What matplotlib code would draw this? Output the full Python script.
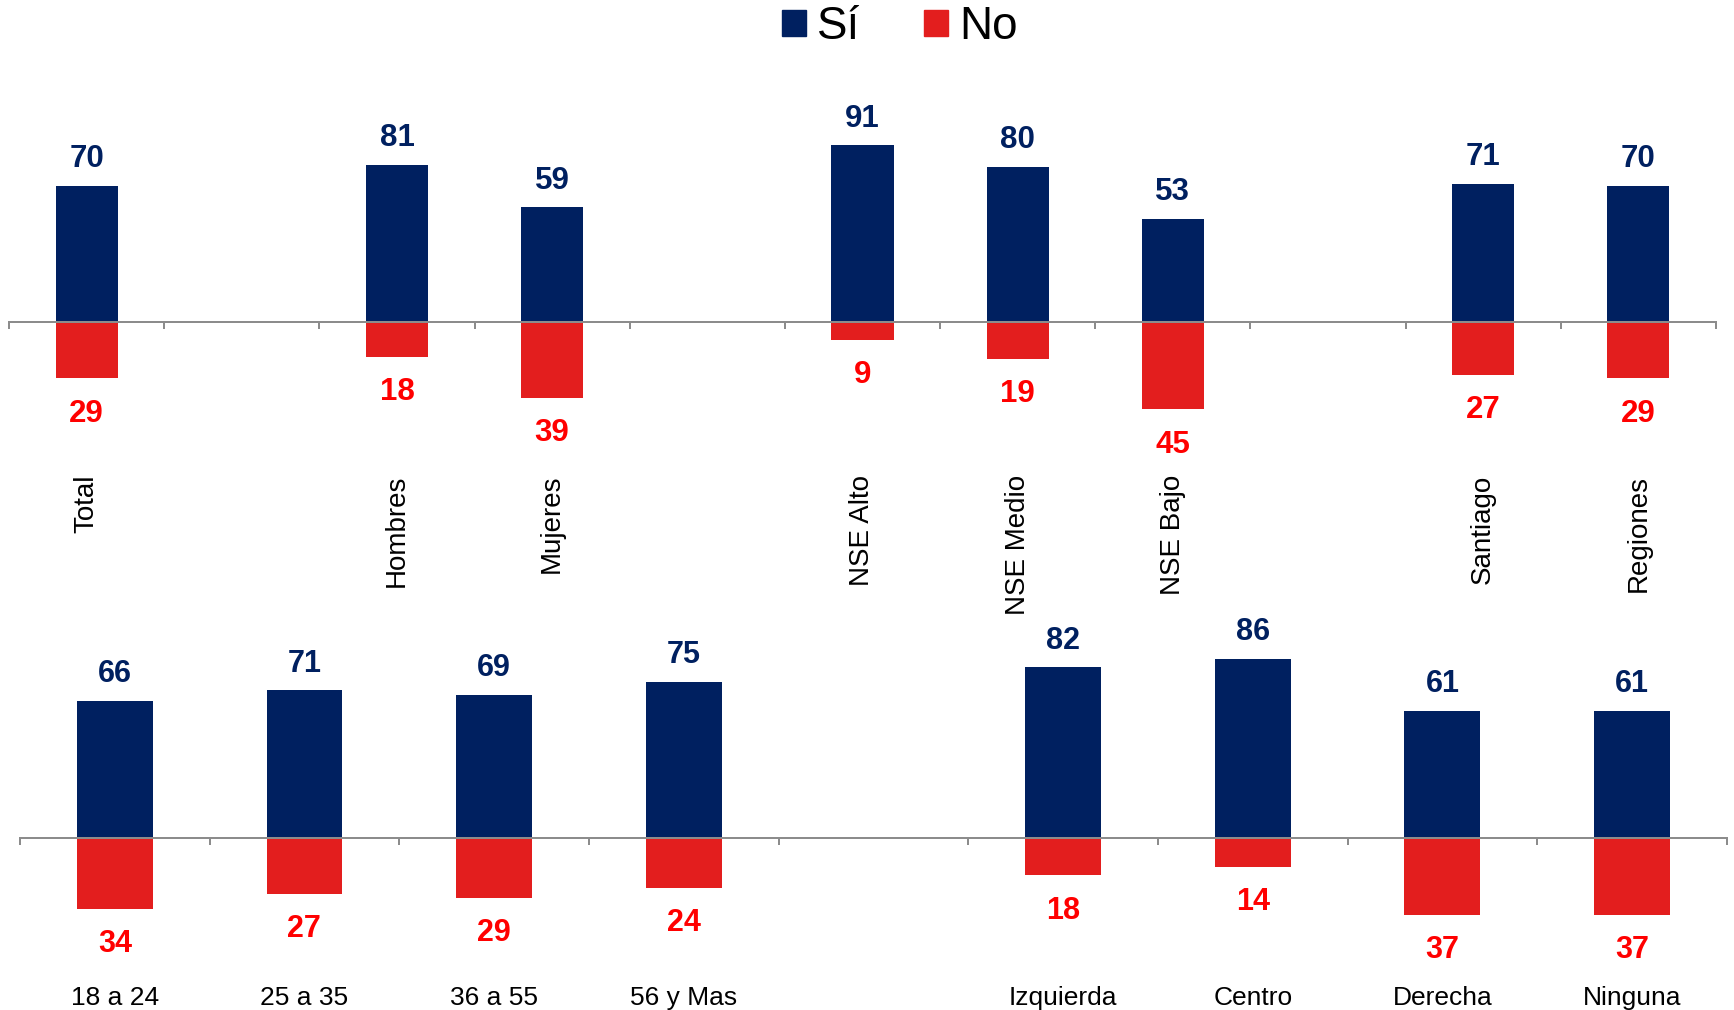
import numpy as np
import matplotlib
matplotlib.use("Agg")
import matplotlib.pyplot as plt  # noqa: E402
from matplotlib.patches import Patch  # noqa: E402

plt.rcParams["font.family"] = ["Liberation Sans", "DejaVu Sans"]

NAVY = "#002060"
RED_BAR = "#E31E1E"
RED_TXT = "#FF0000"
GRAY = "#8C8C8C"

# None marks an empty slot between groups
top_labels = ["Total", "", "Hombres", "Mujeres", "", "NSE Alto", "NSE Medio",
              "NSE Bajo", "", "Santiago", "Regiones"]
top_si = [70, None, 81, 59, None, 91, 80, 53, None, 71, 70]
top_no = [29, None, 18, 39, None, 9, 19, 45, None, 27, 29]

bot_labels = ["18 a 24", "25 a 35", "36 a 55", "56 y Mas", "", "Izquierda",
              "Centro", "Derecha", "Ninguna"]
bot_si = [66, 71, 69, 75, None, 82, 86, 61, 61]
bot_no = [34, 27, 29, 24, None, 18, 14, 37, 37]


def draw_panel(ax, labels, si, no, rot, pad, lab_size, val_size):
    x = [i for i, v in enumerate(si) if v is not None]
    si_v = [si[i] for i in x]
    no_v = [no[i] for i in x]
    ax.bar(x, si_v, width=0.4, color=NAVY)
    ax.bar(x, [-v for v in no_v], width=0.4, color=RED_BAR)
    for xi, s, n in zip(x, si_v, no_v):
        ax.annotate(f"{s}", (xi, s), xytext=(0, 13.5), textcoords="offset points",
                    ha="center", va="baseline", fontsize=val_size,
                    fontweight="bold", color=NAVY)
        ax.annotate(f"{n}", (xi, -n), xytext=(0, -14.5), textcoords="offset points",
                    ha="center", va="top", fontsize=val_size,
                    fontweight="bold", color=RED_TXT)

    n = len(labels)
    ax.set_xlim(-0.5, n - 0.5)
    ax.set_ylim(-60, 100)
    ax.set_xticks(range(n), labels)
    ax.set_xticks(np.arange(n + 1) - 0.5, minor=True)
    ax.tick_params(axis="x", which="major", length=0, pad=pad,
                   labelsize=lab_size, labelcolor="black", labelrotation=rot)
    ax.tick_params(axis="x", which="minor", length=5, width=1.44,
                   color=GRAY, direction="out")
    ax.set_yticks([])
    for side in ["top", "left", "right"]:
        ax.spines[side].set_visible(False)
    ax.spines["bottom"].set_position(("data", 0))
    ax.spines["bottom"].set_color(GRAY)
    ax.spines["bottom"].set_linewidth(1.44)
    ax.patch.set_alpha(0)


fig = plt.figure(figsize=(17.34, 10.10), dpi=100)
ax_top = fig.add_axes([0.0052, 0.5657, 0.9844, 0.3078])
ax_bot = fig.add_axes([0.0115, 0.0467, 0.9844, 0.3295])

draw_panel(ax_top, top_labels, top_si, top_no, 90, 110, 20, 22.5)
draw_panel(ax_bot, bot_labels, bot_si, bot_no, 0, 106.5, 19, 22)

handles = [Patch(color=NAVY, label="Sí"), Patch(color=RED_BAR, label="No")]
fig.legend(handles=handles, loc="center", bbox_to_anchor=(0.519, 0.973),
           ncol=2, frameon=False, fontsize=33, handlelength=0.52,
           handleheight=0.52, handletextpad=0.25, columnspacing=1.4,
           borderpad=0)

fig.savefig("out.png", dpi=100)
plt.close(fig)
